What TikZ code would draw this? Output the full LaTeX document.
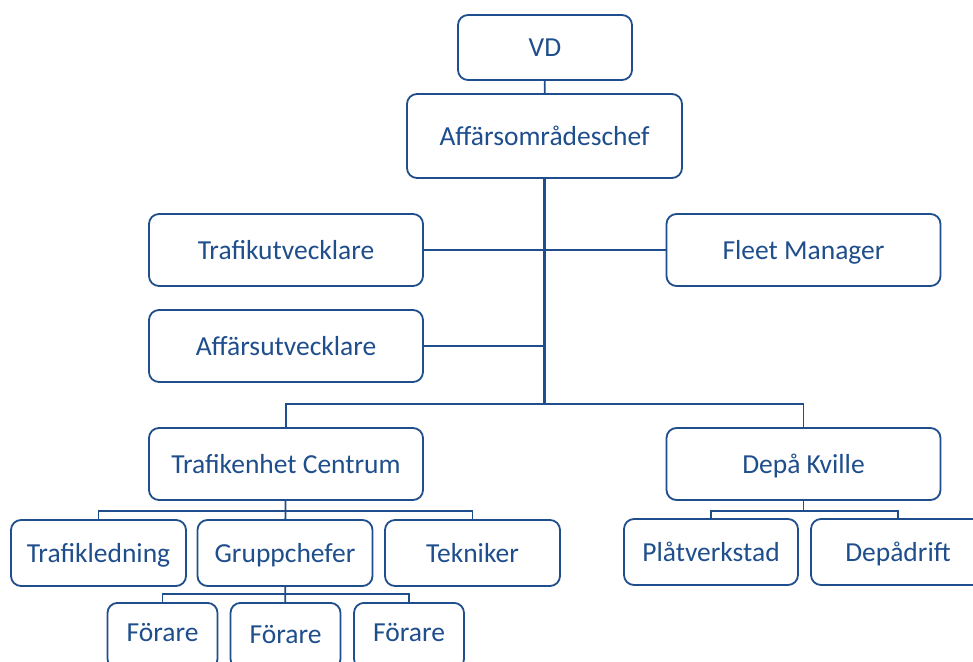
\documentclass[tikz,border=0pt]{standalone}
\usepackage{fontspec}
\setmainfont{Carlito}
\usepackage{tikz}
\definecolor{OrgBlue}{RGB}{31,78,140}

\begin{document}
\begin{tikzpicture}[x=1pt,y=-1pt,
  orgtext/.style={text=OrgBlue, font=\fontsize{27.5}{32}\selectfont, text height=24pt, text depth=6pt},
  orgbox/.style={orgtext, draw=OrgBlue, line width=1.8pt, rounded corners=10pt, fill=white,
    minimum width=274pt, minimum height=72pt},
  orgline/.style={draw=OrgBlue, line width=1.8pt},
  trunkline/.style={draw=OrgBlue, line width=2.6pt}]

  \clip (0,0) rectangle (973,661);

  % top of the chart
  \node[orgbox, minimum width=174pt, minimum height=65pt] (vd) at (545,47.5) {VD};
  \node[orgbox, minimum width=275pt, minimum height=84pt] (aoc) at (544.5,136) {Affärsområdeschef};

  % staff
  \node[orgbox] (tu) at (286,250) {Trafikutvecklare};
  \node[orgbox] (fm) at (803.5,250) {Fleet Manager};
  \node[orgbox] (au) at (286,346) {Affärsutvecklare};

  % units
  \node[orgbox] (tc) at (286,464) {Trafikenhet Centrum};
  \node[orgbox] (dk) at (803.5,464) {Depå Kville};

  \node[orgbox, minimum width=175pt, minimum height=66pt] (tl) at (98.5,553) {Trafikledning};
  \node[orgbox, minimum width=175pt, minimum height=66pt] (gc) at (285,553) {Gruppchefer};
  \node[orgbox, minimum width=175pt, minimum height=66pt] (tk) at (472.5,553) {Tekniker};

  \node[orgbox, minimum width=110pt, minimum height=66pt, anchor=north] (fo1) at (162.5,602) {};
  \node[orgbox, minimum width=110pt, minimum height=66pt, anchor=north] (fo2) at (285.5,602) {};
  \node[orgbox, minimum width=110pt, minimum height=66pt, anchor=north] (fo3) at (409,602) {};
  \node[orgtext] (fo1t) at (162.5,632.5) {Förare};
  \node[orgtext] (fo2t) at (285.5,634) {Förare};
  \node[orgtext] (fo3t) at (409,632.5) {Förare};

  \node[orgbox, minimum width=174pt, minimum height=66pt] (pv) at (711,552) {Plåtverkstad};
  \node[orgbox, minimum width=174pt, minimum height=66pt] (dd) at (898,552) {Depådrift};

  % connectors
  \coordinate (bus) at (544.5,404);
  \coordinate (tcbus) at (286,511);
  \coordinate (gcbus) at (285.5,594);
  \coordinate (dkbus) at (803.5,511);

  \draw[orgline] (vd) -- (aoc);
  \draw[trunkline] (aoc) -- (bus);
  \draw[orgline] (tu) -- (fm);
  \draw[orgline] (au.east) -- (au.east -| bus);
  \draw[orgline] (tc.north) |- (bus) -| (dk.north);

  \draw[orgline] (tc) -- (gc);
  \draw[orgline] (tl.north) |- (tcbus) -| (tk.north);
  \draw[orgline] (gc) -- (fo2);
  \draw[orgline] (fo1.north) |- (gcbus) -| (fo3.north);
  \draw[orgline] (dk) -- (dkbus);
  \draw[orgline] (pv.north) |- (dkbus) -| (dd.north);

\end{tikzpicture}
\end{document}
